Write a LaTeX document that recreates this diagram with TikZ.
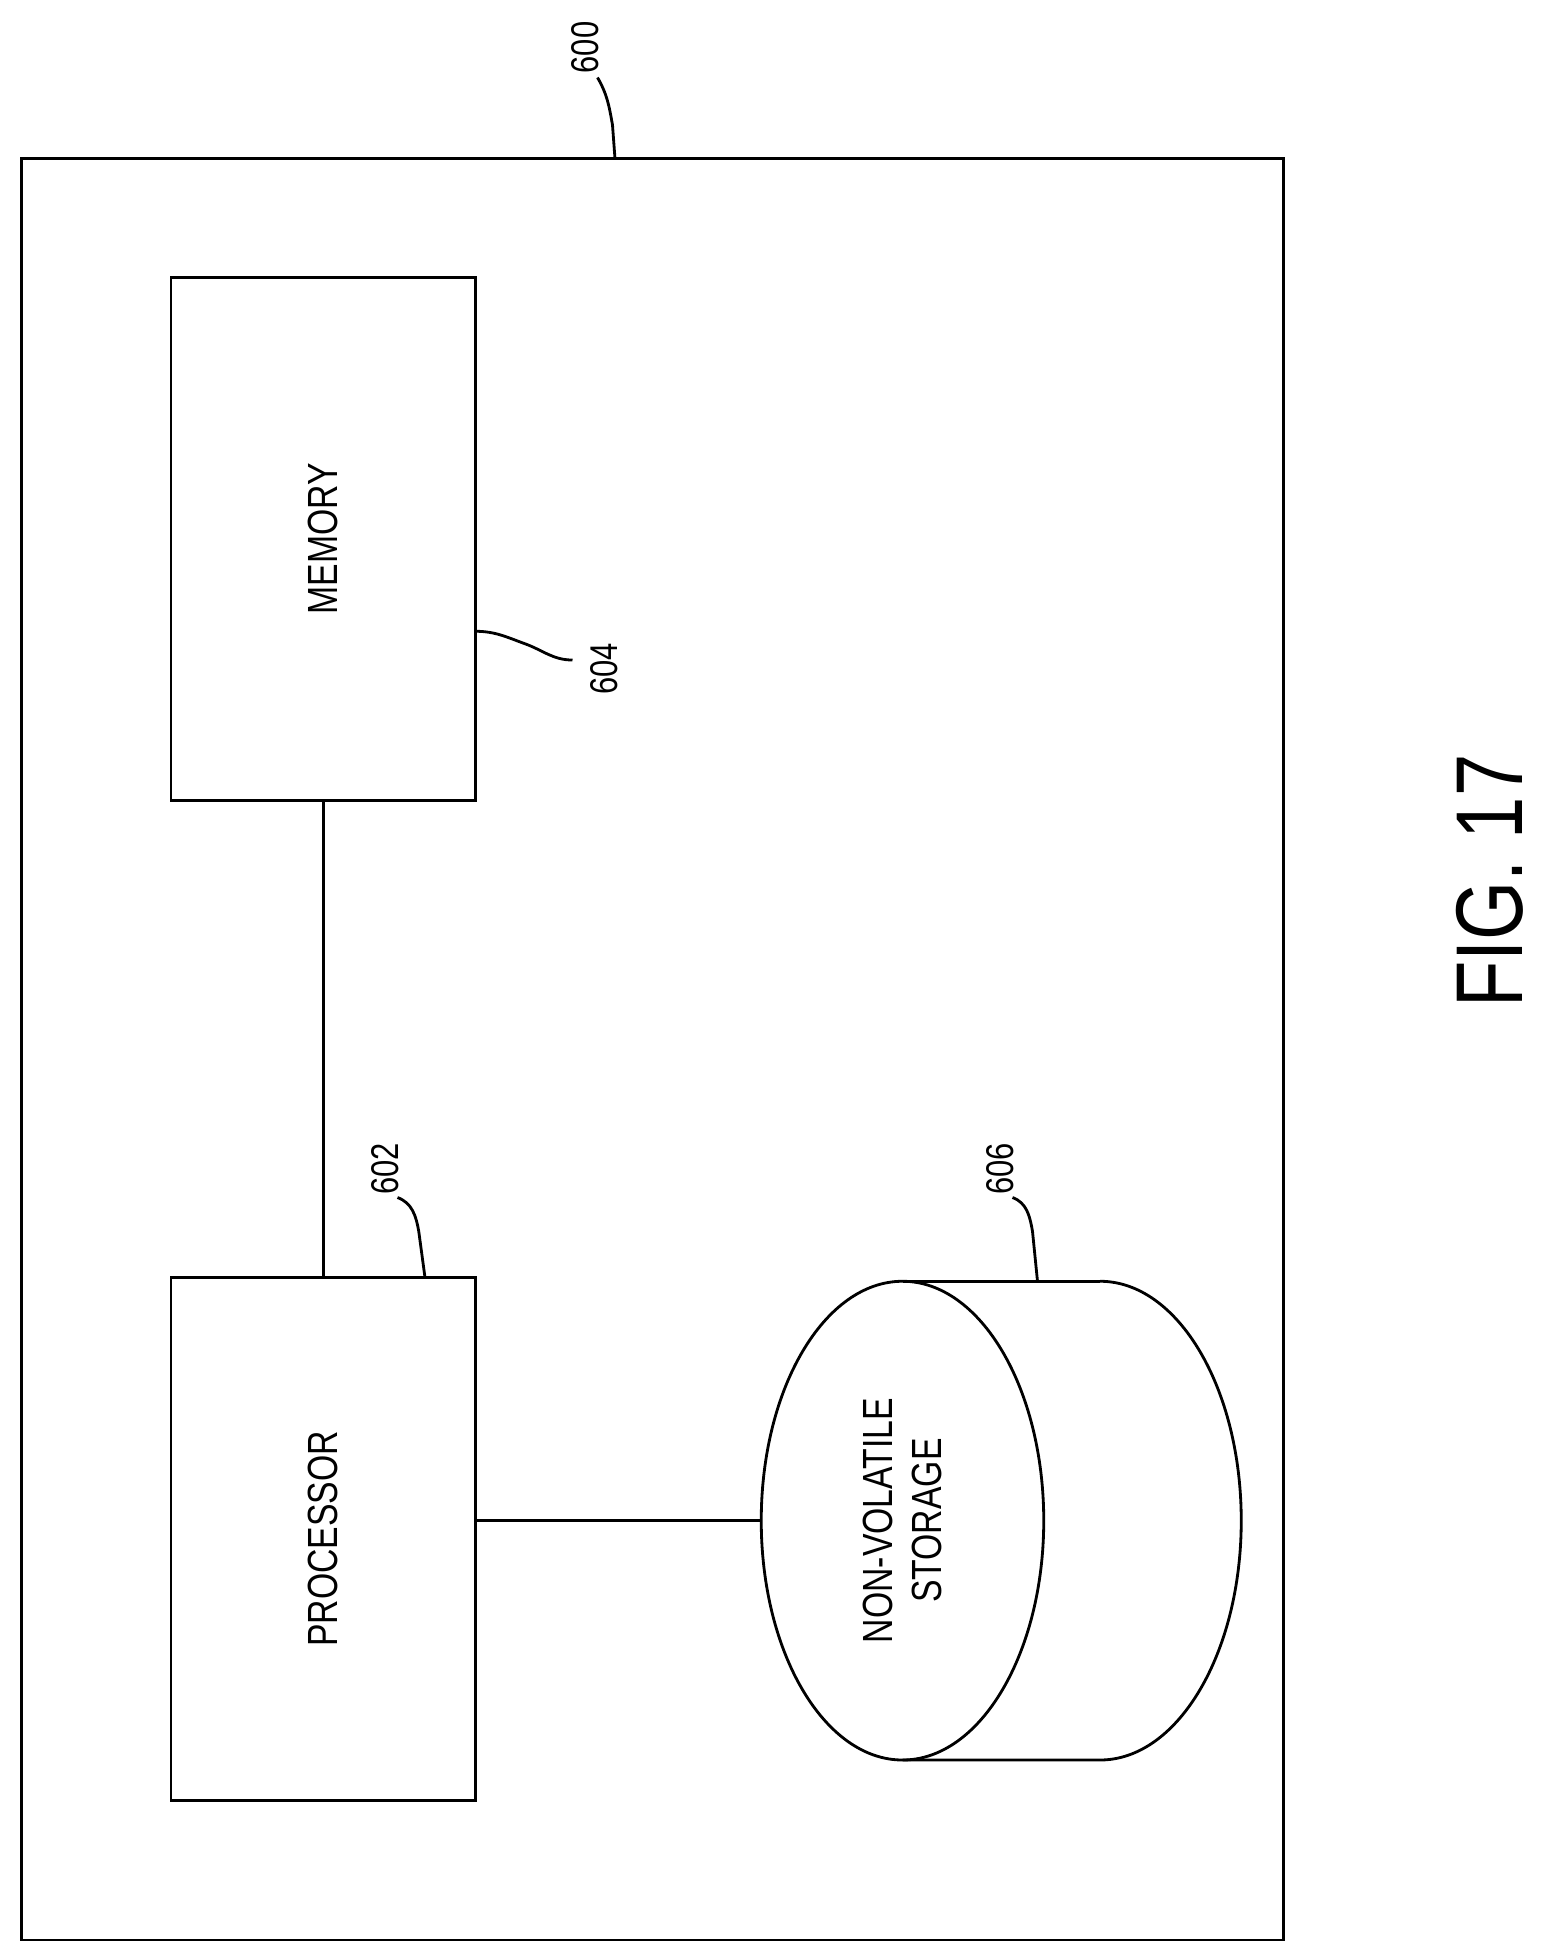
\documentclass[tikz,border=0pt]{standalone}
\usepackage{fontspec}
\setmainfont{Liberation Sans}[FakeStretch=0.8]
\usetikzlibrary{positioning,calc}
\tikzset{box/.style={draw, thick, minimum width=3.04cm, minimum height=5.23cm, inner sep=0pt},
  lbl/.style={rotate=90, font=\fontsize{12}{14}\selectfont},
  refnum/.style={rotate=90, font=\fontsize{11}{11}\selectfont}}
\begin{document}
\begin{tikzpicture}[x=0.0125cm,y=-0.0125cm,thick]
\useasboundingbox (0,0) rectangle (1240.8,1558.4);
\draw (17,127) rectangle (1027,1552);
\node[box] (mem) at (258.5,431) {};
\node[lbl] at (mem) {MEMORY};
\node[box] (proc) at (258.5,1231) {};
\node[lbl] at (proc) {PROCESSOR};
% storage cylinder
\draw (880,1025) arc[start angle=-90,end angle=90,x radius=113,y radius=191.5] -- (722,1408);
\draw (722,1025) -- (880,1025);
\draw (722,1216.5) ellipse[x radius=113,y radius=191.5];
\coordinate (stor) at (609,1216.5);
\node[lbl,align=center] (storl) at (722,1216.5) {NON-VOLATILE\\STORAGE};
\draw (mem.south) -- (proc.north);
\draw (proc.east |- stor) -- (stor);
% reference numerals
\node[refnum] (n600) at (468,38) {600};
\draw (478,62) to[out=-60,in=100] (490,100) -- (492,127);
\node[refnum] (n602) at (308,935) {602};
\draw (318,958) to[out=-20,in=100] (335,985) -- (340,1022);
\node[refnum] (n604) at (483,535) {604};
\draw (380,505) to[out=0,in=160] (420,515) to[out=-20,in=180] (458,528);
\node[refnum] (n606) at (800,935) {606};
\draw (810,958) to[out=-20,in=100] (826,985) -- (830,1025);
\node[rotate=90,font=\fontsize{27}{27}\selectfont] (fig) at (1192,705) {FIG. 17};
\end{tikzpicture}
\end{document}
